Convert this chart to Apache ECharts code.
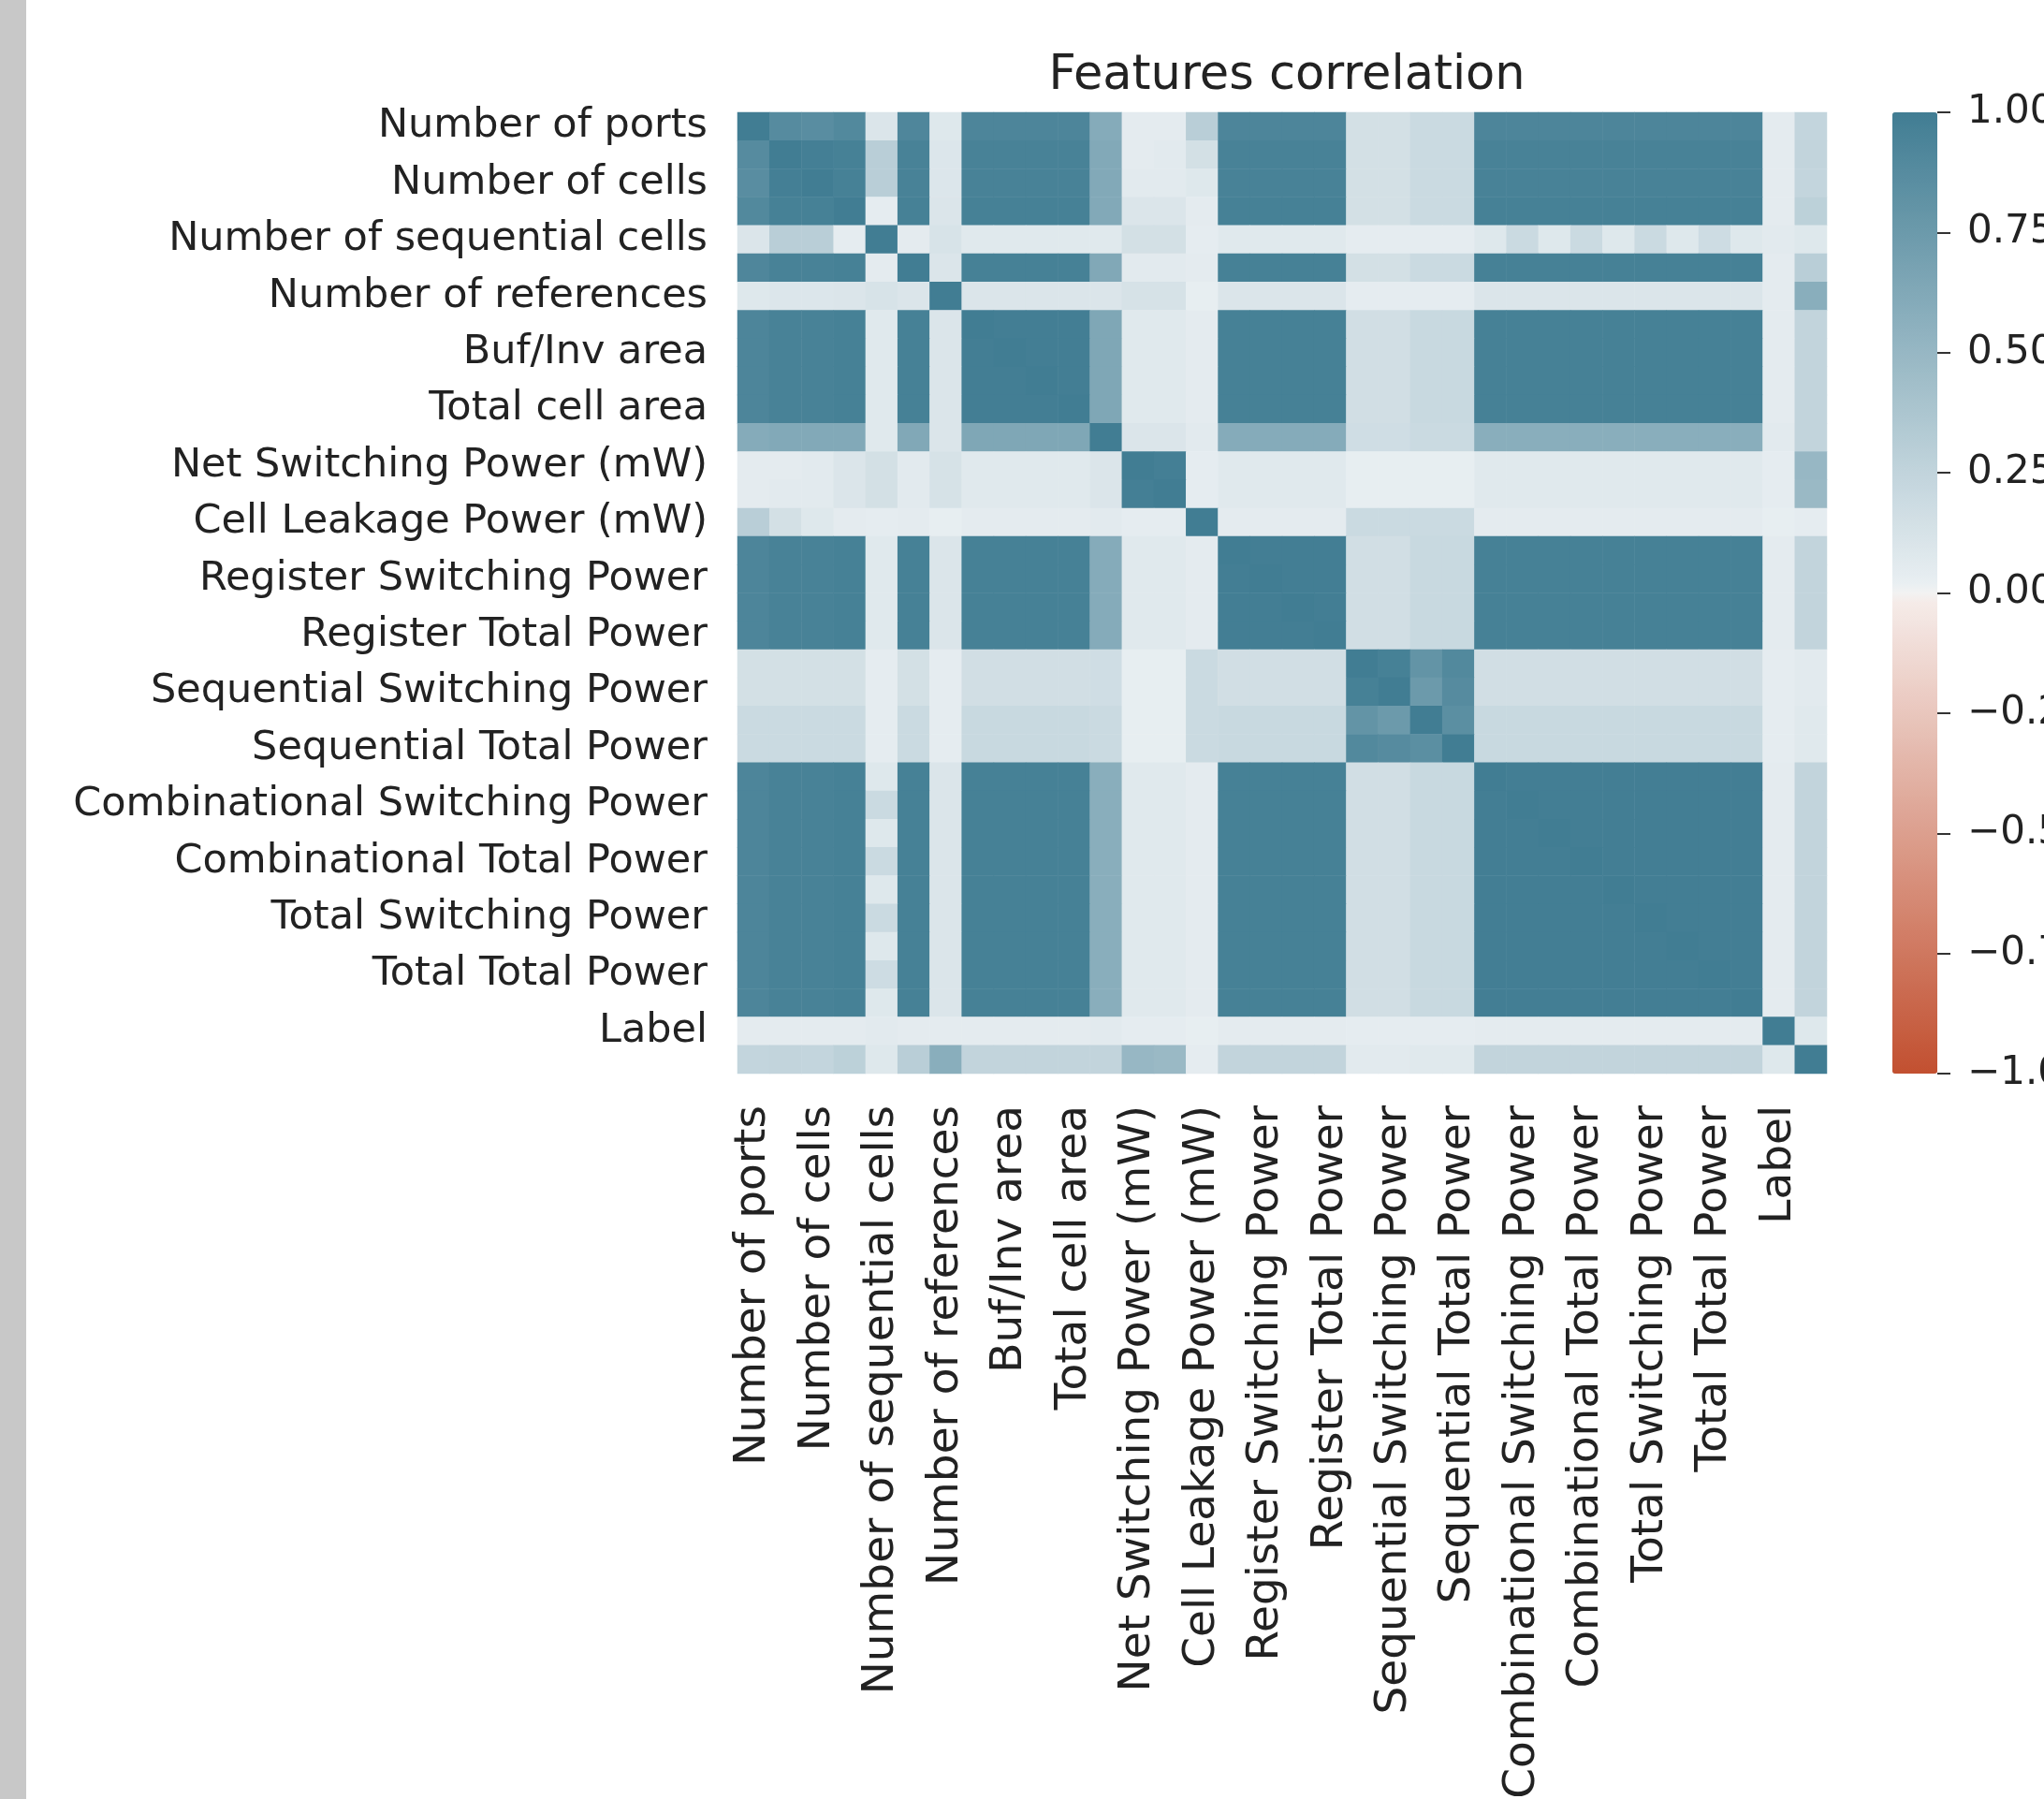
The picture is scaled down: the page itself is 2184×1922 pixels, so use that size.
<!DOCTYPE html>
<html>
<head>
<meta charset="utf-8">
<script src="https://cdn.jsdelivr.net/npm/echarts@6/dist/echarts.min.js"></script>
<style>
  html, body { margin: 0; padding: 0; background: #fff; }
  #chart { width: 2184px; height: 1922px; }
</style>
</head>
<body>
<div id="chart"></div>
<script>
// feature names (only every other one is printed on the axes, as in the seaborn plot)
const features = [
    'Number of ports', 'Number of nets',
    'Number of cells', 'Number of combinational cells',
    'Number of sequential cells', 'Number of buf/inv',
    'Number of references', 'Combinational area',
    'Buf/Inv area', 'Noncombinational area',
    'Total cell area', 'Cell Internal Power (mW)',
    'Net Switching Power (mW)', 'Total Dynamic Power (mW)',
    'Cell Leakage Power (mW)', 'Register Internal Power',
    'Register Switching Power', 'Register Leakage Power',
    'Register Total Power', 'Sequential Internal Power',
    'Sequential Switching Power', 'Sequential Leakage Power',
    'Sequential Total Power', 'Combinational Internal Power',
    'Combinational Switching Power', 'Combinational Leakage Power',
    'Combinational Total Power', 'Total Internal Power',
    'Total Switching Power', 'Total Leakage Power',
    'Total Total Power', 'Total Power',
    'Label', 'Runtime'
];

// correlation matrix, one row per feature
const corr = [
    [1.00,0.88,0.86,0.90,0.10,0.92,0.08,0.93,0.93,0.93,0.93,0.60,0.05,0.05,0.30,0.93,0.93,0.93,0.93,0.15,0.15,0.20,0.20,0.93,0.93,0.93,0.93,0.93,0.93,0.93,0.93,0.93,0.05,0.24],
    [0.88,1.00,0.98,0.97,0.30,0.96,0.09,0.96,0.96,0.96,0.96,0.62,0.05,0.06,0.15,0.96,0.96,0.96,0.96,0.15,0.15,0.20,0.20,0.96,0.96,0.96,0.96,0.96,0.96,0.96,0.96,0.96,0.05,0.25],
    [0.86,0.98,1.00,0.97,0.30,0.96,0.09,0.96,0.96,0.96,0.96,0.62,0.06,0.06,0.08,0.96,0.96,0.96,0.96,0.15,0.15,0.20,0.20,0.96,0.96,0.96,0.96,0.96,0.96,0.96,0.96,0.96,0.05,0.24],
    [0.90,0.97,0.97,1.00,0.04,0.97,0.10,0.97,0.97,0.97,0.97,0.62,0.10,0.10,0.05,0.97,0.97,0.97,0.97,0.15,0.15,0.20,0.20,0.97,0.97,0.97,0.97,0.97,0.97,0.97,0.97,0.97,0.05,0.28],
    [0.10,0.30,0.30,0.04,1.00,0.05,0.12,0.07,0.07,0.07,0.07,0.07,0.15,0.15,0.04,0.07,0.07,0.07,0.07,0.04,0.04,0.04,0.04,0.08,0.20,0.08,0.20,0.08,0.20,0.08,0.18,0.08,0.06,0.08],
    [0.92,0.96,0.96,0.97,0.05,1.00,0.10,0.97,0.97,0.97,0.97,0.63,0.06,0.06,0.05,0.97,0.97,0.97,0.97,0.15,0.15,0.20,0.20,0.97,0.97,0.97,0.97,0.97,0.97,0.97,0.97,0.97,0.05,0.30],
    [0.08,0.09,0.09,0.10,0.12,0.10,1.00,0.10,0.10,0.10,0.10,0.10,0.13,0.13,0.03,0.10,0.10,0.10,0.10,0.04,0.04,0.04,0.04,0.10,0.10,0.10,0.10,0.10,0.10,0.10,0.10,0.10,0.05,0.58],
    [0.93,0.96,0.96,0.97,0.07,0.97,0.10,1.00,0.99,0.99,0.99,0.64,0.07,0.07,0.05,0.97,0.97,0.97,0.97,0.16,0.16,0.21,0.21,0.97,0.97,0.97,0.97,0.97,0.97,0.97,0.97,0.97,0.05,0.25],
    [0.93,0.96,0.96,0.97,0.07,0.97,0.10,0.99,1.00,0.99,0.99,0.64,0.07,0.07,0.05,0.97,0.97,0.97,0.97,0.16,0.16,0.21,0.21,0.97,0.97,0.97,0.97,0.97,0.97,0.97,0.97,0.97,0.05,0.25],
    [0.93,0.96,0.96,0.97,0.07,0.97,0.10,0.99,0.99,1.00,0.99,0.64,0.07,0.07,0.05,0.97,0.97,0.97,0.97,0.16,0.16,0.21,0.21,0.97,0.97,0.97,0.97,0.97,0.97,0.97,0.97,0.97,0.05,0.25],
    [0.93,0.96,0.96,0.97,0.07,0.97,0.10,0.99,0.99,0.99,1.00,0.64,0.07,0.07,0.05,0.97,0.97,0.97,0.97,0.16,0.16,0.21,0.21,0.97,0.97,0.97,0.97,0.97,0.97,0.97,0.97,0.97,0.05,0.25],
    [0.60,0.62,0.62,0.62,0.07,0.63,0.10,0.64,0.64,0.64,0.64,1.00,0.10,0.10,0.06,0.60,0.60,0.60,0.60,0.17,0.17,0.20,0.20,0.58,0.58,0.58,0.58,0.58,0.58,0.58,0.58,0.58,0.06,0.25],
    [0.05,0.05,0.06,0.10,0.15,0.06,0.13,0.07,0.07,0.07,0.07,0.10,1.00,0.98,0.04,0.07,0.07,0.07,0.07,0.03,0.03,0.03,0.03,0.07,0.07,0.07,0.07,0.07,0.07,0.07,0.07,0.07,0.04,0.50],
    [0.05,0.06,0.06,0.10,0.15,0.06,0.13,0.07,0.07,0.07,0.07,0.10,0.98,1.00,0.04,0.07,0.07,0.07,0.07,0.03,0.03,0.03,0.03,0.07,0.07,0.07,0.07,0.07,0.07,0.07,0.07,0.07,0.04,0.48],
    [0.30,0.15,0.08,0.05,0.04,0.05,0.03,0.05,0.05,0.05,0.05,0.06,0.04,0.04,1.00,0.05,0.05,0.05,0.05,0.20,0.20,0.20,0.20,0.05,0.05,0.05,0.05,0.05,0.05,0.05,0.05,0.05,0.03,0.04],
    [0.93,0.96,0.96,0.97,0.07,0.97,0.10,0.97,0.97,0.97,0.97,0.60,0.07,0.07,0.05,1.00,0.99,0.99,0.99,0.16,0.16,0.21,0.21,0.97,0.97,0.97,0.97,0.97,0.97,0.97,0.97,0.97,0.05,0.25],
    [0.93,0.96,0.96,0.97,0.07,0.97,0.10,0.97,0.97,0.97,0.97,0.60,0.07,0.07,0.05,0.99,1.00,0.99,0.99,0.16,0.16,0.21,0.21,0.97,0.97,0.97,0.97,0.97,0.97,0.97,0.97,0.97,0.05,0.25],
    [0.93,0.96,0.96,0.97,0.07,0.97,0.10,0.97,0.97,0.97,0.97,0.60,0.07,0.07,0.05,0.99,0.99,1.00,0.99,0.16,0.16,0.21,0.21,0.97,0.97,0.97,0.97,0.97,0.97,0.97,0.97,0.97,0.05,0.25],
    [0.93,0.96,0.96,0.97,0.07,0.97,0.10,0.97,0.97,0.97,0.97,0.60,0.07,0.07,0.05,0.99,0.99,0.99,1.00,0.16,0.16,0.21,0.21,0.97,0.97,0.97,0.97,0.97,0.97,0.97,0.97,0.97,0.05,0.25],
    [0.15,0.15,0.15,0.15,0.04,0.15,0.04,0.16,0.16,0.16,0.16,0.17,0.03,0.03,0.20,0.16,0.16,0.16,0.16,1.00,0.97,0.80,0.90,0.16,0.16,0.16,0.16,0.16,0.16,0.16,0.16,0.16,0.04,0.06],
    [0.15,0.15,0.15,0.15,0.04,0.15,0.04,0.16,0.16,0.16,0.16,0.17,0.03,0.03,0.20,0.16,0.16,0.16,0.16,0.97,1.00,0.75,0.88,0.16,0.16,0.16,0.16,0.16,0.16,0.16,0.16,0.16,0.04,0.06],
    [0.20,0.20,0.20,0.20,0.04,0.20,0.04,0.21,0.21,0.21,0.21,0.20,0.03,0.03,0.20,0.21,0.21,0.21,0.21,0.80,0.75,1.00,0.85,0.21,0.21,0.21,0.21,0.21,0.21,0.21,0.21,0.21,0.04,0.07],
    [0.20,0.20,0.20,0.20,0.04,0.20,0.04,0.21,0.21,0.21,0.21,0.20,0.03,0.03,0.20,0.21,0.21,0.21,0.21,0.90,0.88,0.85,1.00,0.21,0.21,0.21,0.21,0.21,0.21,0.21,0.21,0.21,0.04,0.07],
    [0.93,0.96,0.96,0.97,0.08,0.97,0.10,0.97,0.97,0.97,0.97,0.58,0.07,0.07,0.05,0.97,0.97,0.97,0.97,0.16,0.16,0.21,0.21,1.00,0.99,0.99,0.99,0.99,0.99,0.99,0.99,0.99,0.05,0.25],
    [0.93,0.96,0.96,0.97,0.20,0.97,0.10,0.97,0.97,0.97,0.97,0.58,0.07,0.07,0.05,0.97,0.97,0.97,0.97,0.16,0.16,0.21,0.21,0.99,1.00,0.99,0.99,0.99,0.99,0.99,0.99,0.99,0.05,0.25],
    [0.93,0.96,0.96,0.97,0.08,0.97,0.10,0.97,0.97,0.97,0.97,0.58,0.07,0.07,0.05,0.97,0.97,0.97,0.97,0.16,0.16,0.21,0.21,0.99,0.99,1.00,0.99,0.99,0.99,0.99,0.99,0.99,0.05,0.25],
    [0.93,0.96,0.96,0.97,0.20,0.97,0.10,0.97,0.97,0.97,0.97,0.58,0.07,0.07,0.05,0.97,0.97,0.97,0.97,0.16,0.16,0.21,0.21,0.99,0.99,0.99,1.00,0.99,0.99,0.99,0.99,0.99,0.05,0.25],
    [0.93,0.96,0.96,0.97,0.08,0.97,0.10,0.97,0.97,0.97,0.97,0.58,0.07,0.07,0.05,0.97,0.97,0.97,0.97,0.16,0.16,0.21,0.21,0.99,0.99,0.99,0.99,1.00,0.99,0.99,0.99,0.99,0.05,0.25],
    [0.93,0.96,0.96,0.97,0.20,0.97,0.10,0.97,0.97,0.97,0.97,0.58,0.07,0.07,0.05,0.97,0.97,0.97,0.97,0.16,0.16,0.21,0.21,0.99,0.99,0.99,0.99,0.99,1.00,0.99,0.99,0.99,0.05,0.25],
    [0.93,0.96,0.96,0.97,0.08,0.97,0.10,0.97,0.97,0.97,0.97,0.58,0.07,0.07,0.05,0.97,0.97,0.97,0.97,0.16,0.16,0.21,0.21,0.99,0.99,0.99,0.99,0.99,0.99,1.00,0.99,0.99,0.05,0.25],
    [0.93,0.96,0.96,0.97,0.18,0.97,0.10,0.97,0.97,0.97,0.97,0.58,0.07,0.07,0.05,0.97,0.97,0.97,0.97,0.16,0.16,0.21,0.21,0.99,0.99,0.99,0.99,0.99,0.99,0.99,1.00,0.99,0.05,0.25],
    [0.93,0.96,0.96,0.97,0.08,0.97,0.10,0.97,0.97,0.97,0.97,0.58,0.07,0.07,0.05,0.97,0.97,0.97,0.97,0.16,0.16,0.21,0.21,0.99,0.99,0.99,0.99,0.99,0.99,0.99,0.99,1.00,0.05,0.25],
    [0.05,0.05,0.05,0.05,0.06,0.05,0.05,0.05,0.05,0.05,0.05,0.06,0.04,0.04,0.03,0.05,0.05,0.05,0.05,0.04,0.04,0.04,0.04,0.05,0.05,0.05,0.05,0.05,0.05,0.05,0.05,0.05,1.00,0.08],
    [0.24,0.25,0.24,0.28,0.08,0.30,0.58,0.25,0.25,0.25,0.25,0.25,0.50,0.48,0.04,0.25,0.25,0.25,0.25,0.06,0.06,0.07,0.07,0.25,0.25,0.25,0.25,0.25,0.25,0.25,0.25,0.25,0.08,1.00]
];

// colorbar ticks
const cbarTicks = [-1, -0.75, -0.5, -0.25, 0, 0.25, 0.5, 0.75, 1];

// seaborn diverging_palette(20, 220): two linear halves meeting at a light gray
const NEG = [194, 80, 48], NEG_LIGHT = [246, 238, 236];
const POS = [65, 125, 147], POS_LIGHT = [236, 241, 244];
const MID = [242, 242, 242];
function mix(a, b, t) {
    return 'rgb(' + a.map((v, k) => Math.round(v + (b[k] - v) * t)).join(',') + ')';
}
const rampColors = [];
for (let i = 0; i <= 100; i++) {
    const v = -1 + i / 50;
    if (v < 0) rampColors.push(mix(NEG_LIGHT, NEG, -v));
    else if (v > 0) rampColors.push(mix(POS_LIGHT, POS, v));
    else rampColors.push(mix(MID, MID, 0));
}

const cells = [];
corr.forEach((row, i) => row.forEach((v, j) => cells.push([j, i, v])));

const FONT = 'DejaVu Sans';
const plot = {left: 788, top: 120, width: 1164, height: 1027};
const cbar = {left: 2022, top: 120, width: 48, height: 1027};

const myChart = echarts.init(document.getElementById('chart'));
myChart.setOption({
    animation: false,
    backgroundColor: '#fff',
    title: {
        text: 'Features correlation',
        left: plot.left + plot.width / 2,
        textAlign: 'center',
        top: 51,
        textStyle: {fontFamily: FONT, fontWeight: 'normal', fontSize: 51, color: '#222'}
    },
    graphic: [{
        type: 'rect',
        shape: {x: 0, y: 0, width: 28, height: 1922},
        style: {fill: '#c8c8c8'},
        silent: true
    }],
    // labels run off the canvas edge in the original, so no outer-bounds squeezing
    grid: [
        {left: plot.left, top: plot.top, width: plot.width, height: plot.height, outerBoundsMode: 'none'},
        {left: cbar.left, top: cbar.top, width: cbar.width, height: cbar.height, outerBoundsMode: 'none'}
    ],
    xAxis: [{
        type: 'category',
        gridIndex: 0,
        data: features,
        axisLine: {show: false},
        splitLine: {show: false},
        axisTick: {interval: 1, alignWithLabel: true, length: 14, lineStyle: {color: '#333', width: 2}},
        axisLabel: {interval: 1, rotate: 90, margin: 34, fontFamily: FONT, fontSize: 47, color: '#222'}
    }, {
        // colorbar's dummy x axis
        type: 'category',
        gridIndex: 1,
        show: false,
        data: ['']
    }],
    yAxis: [{
        type: 'category',
        gridIndex: 0,
        inverse: true,
        data: features,
        axisLine: {show: false},
        splitLine: {show: false},
        axisTick: {interval: 1, alignWithLabel: true, length: 14, lineStyle: {color: '#333', width: 2}},
        axisLabel: {interval: 1, margin: 32, padding: [8, 0, 0, 0], fontFamily: FONT, fontSize: 43, color: '#222'}
    }, {
        type: 'value',
        gridIndex: 1,
        position: 'right',
        min: cbarTicks[0],
        max: cbarTicks[cbarTicks.length - 1],
        interval: 0.25,
        axisLine: {show: false, onZero: false},
        splitLine: {show: false},
        axisTick: {show: true, length: 14, lineStyle: {color: '#333', width: 2}},
        axisLabel: {
            margin: 32, fontFamily: FONT, fontSize: 42, color: '#222',
            formatter: v => v.toFixed(2).replace('-', '\u2212')
        }
    }],
    visualMap: {
        type: 'continuous',
        seriesIndex: 0,
        dimension: 2,
        min: -1,
        max: 1,
        calculable: false,
        show: true,
        orient: 'vertical',
        left: cbar.left,
        top: cbar.top,
        itemWidth: cbar.width,
        itemHeight: cbar.height,
        padding: 0,
        text: null,
        inRange: {color: rampColors}
    },
    series: [{
        type: 'heatmap',
        xAxisIndex: 0,
        yAxisIndex: 0,
        data: cells,
        itemStyle: {borderWidth: 0},
        emphasis: {disabled: true}
    }]
});
</script>
</body>
</html>
